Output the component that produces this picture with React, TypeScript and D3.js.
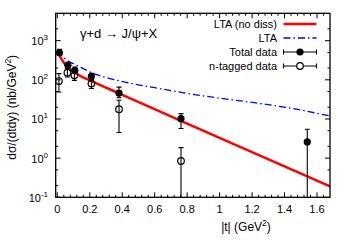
import React from "react";
import * as d3 from "d3";

// ---- data ----
const xTickValues = [0, 0.2, 0.4, 0.6, 0.8, 1, 1.2, 1.4, 1.6];
const xTickLabels = ["0", "0.2", "0.4", "0.6", "0.8", "1", "1.2", "1.4", "1.6"];
const yTickValues = [0.1, 1, 10, 100, 1000];
const yTickExps = ["-1", "0", "1", "2", "3"];

// LTA (no diss) curve
const redT = [0, 0.01, 0.02, 0.03, 0.05, 0.07, 0.1, 0.15, 0.2, 0.4, 0.8, 1.2, 1.68];
const redV = [560, 454, 376, 319, 242, 198, 158, 121, 97, 41.5, 7.6, 1.42, 0.19];

// LTA curve
const blueT = [0, 0.02, 0.037, 0.06, 0.1, 0.16, 0.213, 0.3, 0.43, 0.6, 0.8, 1.0, 1.185, 1.45, 1.68];
const blueV = [560, 460, 380, 316, 257, 193, 151, 115, 85, 63, 45, 34, 27, 18.5, 11.9];

// Total data
const totT = [0.013, 0.065, 0.108, 0.21, 0.38, 0.762, 1.54];
const totV = [490, 234, 175, 123, 46, 10.2, 2.6];
const totLo = [420, 195, 148, 97, 35, 5.7, 0.01];
const totHi = [600, 280, 212, 147, 65, 13.7, 5.45];

// n-tagged data
const nT = [0.01, 0.062, 0.105, 0.21, 0.38, 0.762];
const nV = [93, 152, 130, 80, 17.7, 0.85];
const nLo = [49, 118, 97, 60, 4.5, 0.01];
const nHi = [144, 195, 193, 101, 30, 1.86];

const W = 350, H = 245;
const L = 55.7, R = 330, T = 13.3, B = 197.3;

export default function App() {
  const x = d3.scaleLinear().domain([-0.01, 1.68]).range([L, R]);
  const y = d3.scaleLog().domain([0.1, 5000]).range([B, T]);

  const line = d3
    .line<[number, number]>()
    .x((d) => x(d[0]))
    .y((d) => y(d[1]))
    .curve(d3.curveMonotoneX);

  const redPath = line(redT.map((t, i) => [t, redV[i]]) as [number, number][]) || "";
  const bluePath = line(blueT.map((t, i) => [t, blueV[i]]) as [number, number][]) || "";

  const xMinor: number[] = d3.range(0, 1.68, 0.04).filter(
    (v) => Math.abs(v / 0.2 - Math.round(v / 0.2)) > 1e-6
  );
  const yMinor: number[] = [];
  [0.1, 1, 10, 100, 1000].forEach((d) => {
    [2, 5].forEach((m) => {
      const v = d * m;
      if (v < 5000) yMinor.push(v);
    });
  });

  const font = "'Liberation Sans', Arial, Helvetica, sans-serif";
  const majorLen = 5, minorLen = 2.5;
  const cap = 2.5;

  const errBar = (xp: number, lo: number, hi: number, key: string) => {
    const y1 = y(Math.max(lo, 0.01));
    const y2 = y(hi);
    return (
      <g key={key} stroke="#000" strokeWidth={1.1}>
        <line x1={xp} x2={xp} y1={y1} y2={y2} />
        {lo > 0.1 && <line x1={xp - cap} x2={xp + cap} y1={y1} y2={y1} />}
        <line x1={xp - cap} x2={xp + cap} y1={y2} y2={y2} />
      </g>
    );
  };

  const legendRows = [
    { label: "LTA (no diss)", y: 24 },
    { label: "LTA", y: 38 },
    { label: "Total data", y: 52 },
    { label: "n-tagged data", y: 66 },
  ];
  const lx1 = 283.5, lx2 = 316.5, lxc = 300, ltx = 277;

  return (
    <svg
      width={W}
      height={H}
      style={{ position: "absolute", left: 0, top: 0, background: "#fff" }}
      fontFamily={font}
    >
      <defs>
        <clipPath id="plotclip">
          <rect x={L} y={T} width={R - L} height={B - T} />
        </clipPath>
      </defs>
      <rect x={0} y={0} width={W} height={H} fill="#fff" />

      {/* ticks */}
      <g stroke="#000" strokeWidth={1}>
        {xTickValues.map((v, i) => (
          <g key={"xt" + i}>
            <line x1={x(v)} x2={x(v)} y1={B} y2={B - majorLen} />
            <line x1={x(v)} x2={x(v)} y1={T} y2={T + majorLen} />
          </g>
        ))}
        {xMinor.map((v, i) => (
          <g key={"xm" + i}>
            <line x1={x(v)} x2={x(v)} y1={B} y2={B - minorLen} />
            <line x1={x(v)} x2={x(v)} y1={T} y2={T + minorLen} />
          </g>
        ))}
        {yTickValues.map((v, i) => (
          <g key={"yt" + i}>
            <line x1={L} x2={L + majorLen} y1={y(v)} y2={y(v)} />
            <line x1={R} x2={R - majorLen} y1={y(v)} y2={y(v)} />
          </g>
        ))}
        {yMinor.map((v, i) => (
          <g key={"ym" + i}>
            <line x1={L} x2={L + minorLen} y1={y(v)} y2={y(v)} />
            <line x1={R} x2={R - minorLen} y1={y(v)} y2={y(v)} />
          </g>
        ))}
      </g>

      {/* tick labels */}
      <g fontSize={11} fill="#000">
        {xTickValues.map((v, i) => (
          <text key={"xl" + i} x={x(v)} y={212.5} textAnchor="middle">
            {xTickLabels[i]}
          </text>
        ))}
        {yTickValues.map((v, i) => (
          <text key={"yl" + i} x={48} y={y(v) + 4.5} textAnchor="end">
            10
            <tspan dy={-5} fontSize={8}>
              {yTickExps[i]}
            </tspan>
          </text>
        ))}
      </g>

      {/* curves & data */}
      <g clipPath="url(#plotclip)">
        <path d={bluePath} fill="none" stroke="#0000ff" strokeWidth={1.3} strokeDasharray="7,3,1.5,3" />
        <path d={redPath} fill="none" stroke="#ff0000" strokeWidth={2.5} />
        {nT.map((t, i) => errBar(x(t), nLo[i], nHi[i], "ne" + i))}
        {totT.map((t, i) => errBar(x(t), totLo[i], totHi[i], "te" + i))}
        {nT.map((t, i) => (
          <circle key={"nc" + i} cx={x(t)} cy={y(nV[i])} r={3.3} fill="none" stroke="#000" strokeWidth={1.2} />
        ))}
        {totT.map((t, i) => (
          <circle key={"tc" + i} cx={x(t)} cy={y(totV[i])} r={3.6} fill="#000" />
        ))}
      </g>

      {/* title */}
      <text x={80} y={38} fontSize={13} fill="#000">
        γ+d → J/ψ+X
      </text>

      {/* legend */}
      <g fontSize={11} fill="#000">
        {legendRows.map((r, i) => (
          <text key={"lg" + i} x={ltx} y={r.y + 4} textAnchor="end">
            {r.label}
          </text>
        ))}
      </g>
      <line x1={lx1} x2={lx2} y1={24} y2={24} stroke="#ff0000" strokeWidth={2.5} />
      <line x1={lx1} x2={lx2} y1={38} y2={38} stroke="#0000ff" strokeWidth={1.3} strokeDasharray="7,3,1.5,3" />
      <g stroke="#000" strokeWidth={1.1}>
        <line x1={lx1} x2={lx2} y1={52} y2={52} />
        <line x1={lx1} x2={lx1} y1={52 - cap} y2={52 + cap} />
        <line x1={lx2} x2={lx2} y1={52 - cap} y2={52 + cap} />
        <line x1={lx1} x2={lx2} y1={66} y2={66} />
        <line x1={lx1} x2={lx1} y1={66 - cap} y2={66 + cap} />
        <line x1={lx2} x2={lx2} y1={66 - cap} y2={66 + cap} />
      </g>
      <circle cx={lxc} cy={52} r={3.6} fill="#000" />
      <circle cx={lxc} cy={66} r={3.3} fill="#fff" stroke="#000" strokeWidth={1.2} />

      {/* frame */}
      <rect x={L} y={T} width={R - L} height={B - T} fill="none" stroke="#000" strokeWidth={1.3} />

      {/* axis titles */}
      <text x={246} y={231} fontSize={12} textAnchor="middle" fill="#000">
        |t| (GeV
        <tspan dy={-5} fontSize={8.5}>2</tspan>
        <tspan dy={5}>)</tspan>
      </text>
      <text
        transform={`translate(16, ${(T + B) / 2 + 2}) rotate(-90)`}
        fontSize={12}
        textAnchor="middle"
        fill="#000"
      >
        dσ/(dtdy) (nb/GeV
        <tspan dy={-5} fontSize={8.5}>2</tspan>
        <tspan dy={5}>)</tspan>
      </text>
    </svg>
  );
}
